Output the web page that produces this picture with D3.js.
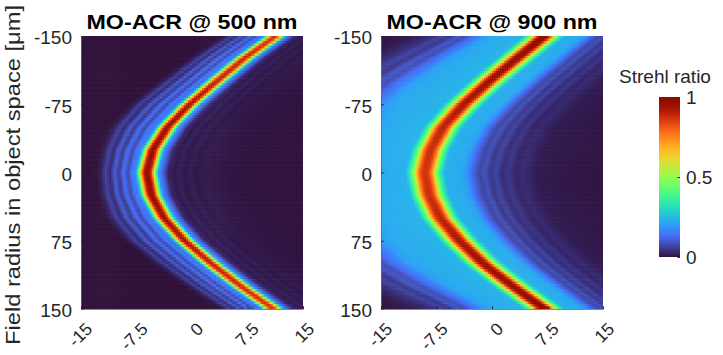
<!DOCTYPE html>
<html><head><meta charset="utf-8">
<script src="https://cdn.jsdelivr.net/npm/d3@7"></script>
<style>
html,body{margin:0;padding:0;background:#fff;}
svg{display:block;font-family:"Liberation Sans",Arial,Helvetica,sans-serif;}
</style></head><body>
<svg id="chart" width="723" height="355"></svg>
<script>
// ---------------- data ----------------
const fieldRadius = [-150,-125,-100,-75,-50,-25,0,25,50,75,100,125,150];
const xTicks = [-15,-7.5,0,7.5,15];
const yTicks = [-150,-75,0,75,150];
const cbTicks = [0,0.5,1];
const panelTitles = ["MO-ACR @ 500 nm","MO-ACR @ 900 nm"];
const yLabel = "Field radius in object space [\u03bcm]";
const cbLabel = "Strehl ratio";

// x position of the Strehl ridge for every field radius
const ridgeX500 = [11.3, 7.0, 3.3, -0.3, -3.3, -5.3, -6.1, -5.5, -3.8, -1.0, 2.6, 6.6, 11.0];
const ridgeX900 = [7.1, 3.3, -0.4, -3.8, -6.6, -8.3, -9.1, -8.5, -7.0, -4.4, -1.2, 2.8, 7.1];
// peak Strehl ratio on the ridge
const peak500 = [0.88,0.90,0.92,0.94,0.96,0.98,0.99,0.98,0.96,0.94,0.92,0.90,0.88];
const peak900 = [0.98,0.97,0.95,0.93,0.90,0.88,0.87,0.88,0.90,0.93,0.95,0.97,0.98];
// widening of the halo on the left side of the ridge
const spread500 = [1.05,1.1,1.15,1.2,1.15,1.05,1.0,1.05,1.15,1.2,1.15,1.1,1.05];
const spread900 = [1.2,1.4,1.55,1.6,1.45,1.2,1.0,1.2,1.45,1.6,1.55,1.4,1.2];
// core cross-section (relative to peak) vs offset from ridge
const coreOffset500 = [-3,-1.5,-1.0,-0.5,0,0.5,1.0,1.5,3];
const coreShape500  = [0,0.2,0.55,0.9,1,0.9,0.55,0.2,0];
const coreOffset900 = [-4,-2.5,-2.0,-1.5,-1.0,-0.5,0,0.5,1.0,1.5,2.0,2.5,4];
const coreShape900  = [0,0.3,0.42,0.57,0.83,0.97,1,0.97,0.83,0.57,0.42,0.3,0];
// halo / ring Strehl cross-section vs offset from ridge
const haloOffset500 = [-30,-7.0,-6.2,-5.6,-5.0,-4.4,-3.8,-3.2,-2.6,-2.0,-1.6,0,1.2,1.7,2.3,3.0,3.6,4.3,5.0,5.8,6.6,7.5,9,12,30];
const haloValue500  = [0,0,0.02,0.07,0.03,0.11,0.05,0.14,0.07,0.16,0.12,0.12,0.07,0.03,0.012,0.028,0.01,0.022,0.008,0.018,0.006,0.013,0.008,0.004,0];
const haloOffset900 = [-30,-22,-15,-12.5,-11.5,-10.5,-9.6,-8.8,-8.0,-7.2,-6.6,-5.5,-3,0,3,5.0,5.6,6.2,6.8,7.4,8.1,8.8,9.6,10.4,11.3,12.2,13.2,15,18,30];
const haloValue900  = [0,0,0.01,0.04,0.07,0.05,0.1,0.08,0.13,0.16,0.2,0.22,0.23,0.25,0.23,0.22,0.19,0.14,0.1,0.07,0.09,0.05,0.07,0.035,0.05,0.025,0.035,0.015,0.01,0];

// ---------------- colour map (turbo) ----------------
const lowStops = d3.scaleLinear().domain([0,0.04,0.08,0.12])
  .range(["rgb(48,18,59)","rgb(57,47,125)","rgb(65,78,175)",d3.interpolateTurbo(0.12)])
  .interpolate(d3.interpolateRgb).clamp(true);
function cmap(t){ t=Math.max(0,Math.min(1,t)); return t<0.12 ? lowStops(t) : d3.interpolateTurbo(t); }

const svg = d3.select("#chart");
const yTop=36, yBot=309;
const textCol="#262626";

const panels = [
  {title:panelTitles[0], x0:81, x1:303, ridge:ridgeX500, peak:peak500, spread:spread500,
   coreOff:coreOffset500, core:coreShape500, haloOff:haloOffset500, halo:haloValue500},
  {title:panelTitles[1], x0:381, x1:603, ridge:ridgeX900, peak:peak900, spread:spread900,
   coreOff:coreOffset900, core:coreShape900, haloOff:haloOffset900, halo:haloValue900}
];

panels.forEach((p,pi)=>{
  const x = d3.scaleLinear().domain([-15,15]).range([p.x0,p.x1]);
  const y = d3.scaleLinear().domain([-150,150]).range([yTop,yBot]);
  const ridgeAt  = d3.scaleLinear().domain(fieldRadius).range(p.ridge);
  const peakAt   = d3.scaleLinear().domain(fieldRadius).range(p.peak);
  const spreadAt = d3.scaleLinear().domain(fieldRadius).range(p.spread);
  const coreAt   = d3.scaleLinear().domain(p.coreOff).range(p.core).clamp(true);
  const haloAt   = d3.scaleLinear().domain(p.haloOff).range(p.halo).clamp(true);

  const nx=110, ny=110, dx=30/nx, dy=300/ny;
  const cells=[];
  for(let j=0;j<ny;j++){
    const fy=-150+(j+0.5)*dy;
    const c=ridgeAt(fy), pk=peakAt(fy), sp=spreadAt(fy);
    for(let i=0;i<nx;i++){
      const fx=-15+(i+0.5)*dx;
      const d=fx-c;
      const dh = d<0 ? d/sp : d;
      const v=Math.max(pk*coreAt(d), haloAt(dh));
      cells.push({fx,fy,v});
    }
  }
  const clipId="clip"+pi;
  svg.append("clipPath").attr("id",clipId).append("rect")
    .attr("x",p.x0).attr("y",yTop).attr("width",p.x1-p.x0).attr("height",yBot-yTop);
  const g=svg.append("g").attr("clip-path",`url(#${clipId})`);
  const cw=x(dx)-x(0), ch=y(dy)-y(0);
  g.selectAll("rect").data(cells).join("rect")
    .attr("x",d=>x(d.fx-dx/2)).attr("y",d=>y(d.fy-dy/2))
    .attr("width",cw+0.6).attr("height",ch+0.6)
    .attr("fill",d=>cmap(d.v));

  // y axis
  const ya=svg.append("g").attr("transform",`translate(${p.x0},0)`)
    .call(d3.axisLeft(y).tickValues(yTicks).tickFormat(d=>String(d))
      .tickSizeInner(-2.7).tickSizeOuter(0).tickPadding(9));
  ya.select(".domain").attr("stroke","#6a6a6a").attr("stroke-width",0.8);
  ya.selectAll(".tick line").attr("stroke",textCol);
  ya.selectAll("text").attr("font-size",19).attr("fill",textCol).attr("dy","0.42em")
    .attr("font-family","Liberation Sans, Arial, sans-serif");

  // x axis
  const xa=svg.append("g").attr("transform",`translate(0,${yBot})`)
    .call(d3.axisBottom(x).tickValues(xTicks).tickFormat(d=>String(d))
      .tickSizeInner(-2.7).tickSizeOuter(0).tickPadding(0));
  xa.select(".domain").attr("stroke","#6a6a6a").attr("stroke-width",0.8);
  xa.selectAll(".tick line").attr("stroke",textCol);
  xa.selectAll("text").attr("font-size",17.5).attr("fill",textCol)
    .attr("font-family","Liberation Sans, Arial, sans-serif")
    .attr("y",0).attr("dy",0).attr("text-anchor","end")
    .attr("transform","translate(12,21) rotate(-45)");

  // title
  svg.append("text").attr("x",(p.x0+p.x1)/2).attr("y",29)
    .attr("text-anchor","middle").attr("font-weight","bold").attr("font-size",20)
    .attr("textLength",211).attr("lengthAdjust","spacingAndGlyphs")
    .attr("fill","#000").text(p.title);
});

// y label
svg.append("text").attr("transform","translate(20,175) rotate(-90)")
  .attr("text-anchor","middle").attr("font-size",21).attr("fill",textCol)
  .attr("textLength",340).attr("lengthAdjust","spacingAndGlyphs")
  .text(yLabel);

// colour bar
const cbX0=659, cbX1=680, cbTop=97, cbBot=257;
const cbScale=d3.scaleLinear().domain([0,1]).range([cbBot,cbTop]);
const grad=svg.append("defs").append("linearGradient").attr("id","cbgrad")
  .attr("x1",0).attr("y1",1).attr("x2",0).attr("y2",0);
d3.range(0,1.0001,0.02).forEach(t=>{
  grad.append("stop").attr("offset",t).attr("stop-color",cmap(t));
});
svg.append("rect").attr("x",cbX0).attr("y",cbTop).attr("width",cbX1-cbX0).attr("height",cbBot-cbTop)
  .attr("fill","url(#cbgrad)");
const cba=svg.append("g").attr("transform",`translate(${cbX1},0)`)
  .call(d3.axisRight(cbScale).tickValues(cbTicks).tickFormat(d=>String(d))
    .tickSizeInner(-2.5).tickSizeOuter(0).tickPadding(6));
cba.select(".domain").remove();
cba.selectAll(".tick line").attr("stroke",textCol);
cba.selectAll("text").attr("font-size",19).attr("fill",textCol)
  .attr("font-family","Liberation Sans, Arial, sans-serif");
svg.append("text").attr("x",665).attr("y",83).attr("text-anchor","middle")
  .attr("font-size",19).attr("fill",textCol).text(cbLabel);
</script>
</body></html>
